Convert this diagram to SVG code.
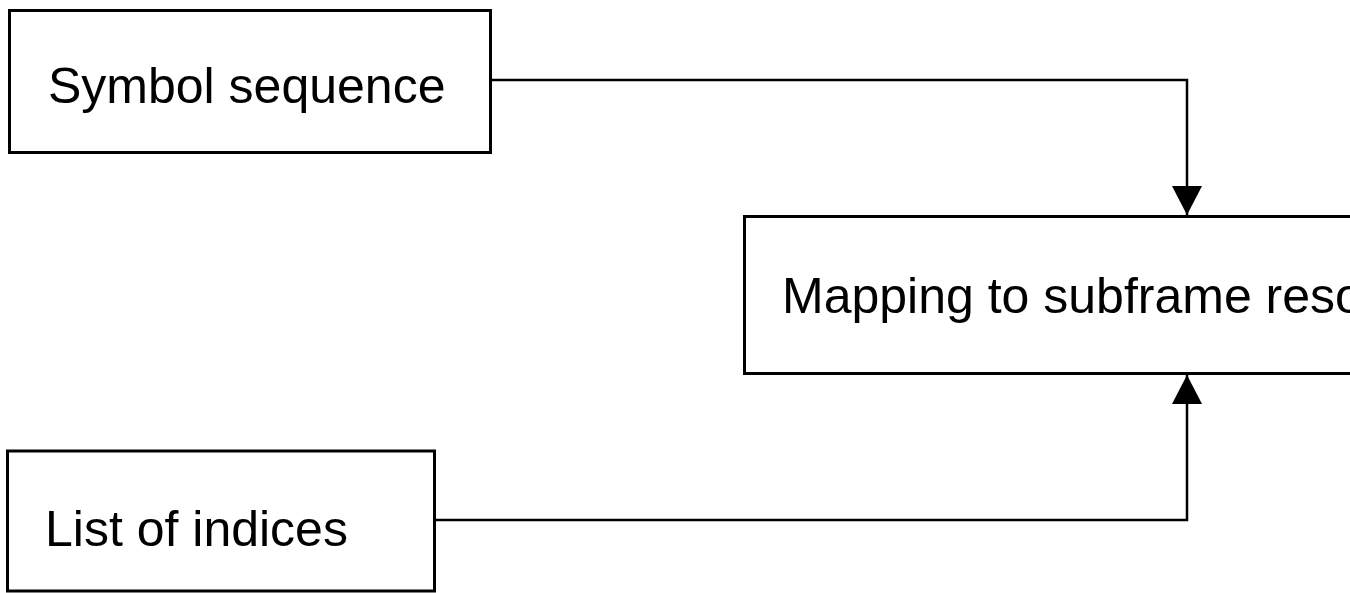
<svg xmlns="http://www.w3.org/2000/svg" width="1350" height="593" viewBox="0 0 1350 593">
<defs>
<style>
.box{fill:#fff;stroke:#000;stroke-width:3}
.lbl{font-family:"Liberation Sans",Arial,sans-serif;font-size:50px;fill:#000}
.conn{fill:none;stroke:#000;stroke-width:2.5}
</style>
<marker id="arr" markerUnits="userSpaceOnUse" markerWidth="30" markerHeight="30" viewBox="0 0 30 30" refX="29" refY="15" orient="auto">
<path d="M0,0 L29,15 L0,30 Z" fill="#000"/>
</marker>
</defs>
<rect width="1350" height="593" fill="#fff"/>
<g id="connectors">
<path class="conn" d="M490,80 H1187 V215" marker-end="url(#arr)"/>
<path class="conn" d="M434,520 H1187 V375" marker-end="url(#arr)"/>
</g>
<g id="symbol-sequence">
<rect class="box" x="9.5" y="10.5" width="481" height="142"/>
<text class="lbl" x="48" y="103">Symbol sequence</text>
</g>
<g id="mapping">
<rect class="box" x="744.5" y="216.5" width="640" height="157"/>
<text class="lbl" x="782" y="313">Mapping to subframe resources</text>
</g>
<g id="list-of-indices">
<rect class="box" x="7.5" y="451" width="427" height="140"/>
<text class="lbl" x="45" y="546">List of indices</text>
</g>
</svg>
